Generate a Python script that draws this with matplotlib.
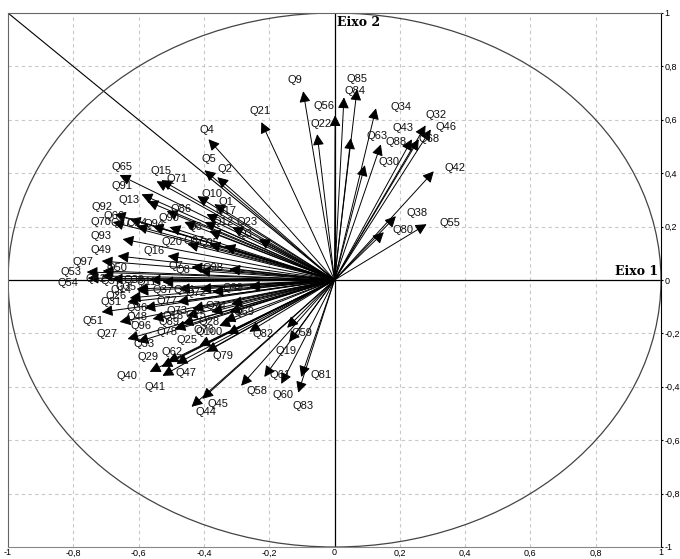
import numpy as np
import matplotlib.pyplot as plt
from matplotlib.patches import Ellipse

# variables (correlations with axis 1 and axis 2)
names = ["Q9", "Q84", "Q85", "Q56", "Q22", "Q21", "Q34", "Q63", "Q88", "Q30",
         "Q43", "Q32", "Q46", "Q68", "Q42", "Q38", "Q80", "Q55",
         "Q4", "Q5", "Q2", "Q65", "Q15", "Q71", "Q91", "Q13", "Q10", "Q1",
         "Q17", "Q12", "Q23", "Q92", "Q70", "Q66", "Q86", "Q93", "Q16", "Q49",
         "Q97", "Q53", "Q54", "Q50", "Q57",
         "Q35", "Q26", "Q31", "Q36", "Q51", "Q96", "Q48", "Q77", "Q18", "Q89",
         "Q78", "Q27", "Q33", "Q28", "Q69", "Q100", "Q25", "Q79", "Q62", "Q47",
         "Q29", "Q40", "Q41", "Q45", "Q44", "Q58", "Q61", "Q60", "Q81", "Q83",
         "Q19", "Q59", "Q82",
         "Q39", "Q52",
         "Q67", "Q24", "Q94", "Q90", "Q6", "Q20", "Q87", "Q7", "Q8", "Q11",
         "Q14", "Q37", "Q64", "Q72", "Q73", "Q74", "Q75", "Q76", "Q95", "Q98",
         "Q99", "Q3"]

eixo1 = [-0.096, 0.029, 0.069, 0.002, -0.053, -0.224, 0.127, 0.050, 0.142, 0.093,
         0.237, 0.279, 0.295, 0.258, 0.304, 0.188, 0.151, 0.282,
         -0.386, -0.398, -0.359, -0.658, -0.545, -0.530, -0.591, -0.573, -0.420, -0.368,
         -0.392, -0.398, -0.313, -0.673, -0.679, -0.627, -0.514, -0.649, -0.511, -0.664,
         -0.713, -0.759, -0.756, -0.710, -0.713,
         -0.603, -0.627, -0.634, -0.582, -0.713, -0.658, -0.557, -0.481, -0.453, -0.466,
         -0.490, -0.634, -0.603, -0.337, -0.322, -0.328, -0.414, -0.392, -0.511, -0.484,
         -0.530, -0.566, -0.527, -0.405, -0.438, -0.286, -0.215, -0.163, -0.102, -0.111,
         -0.139, -0.145, -0.261,
         -0.566, -0.682,
         -0.606, -0.557, -0.505, -0.460, -0.383, -0.450, -0.383, -0.438, -0.414, -0.527,
         -0.606, -0.476, -0.411, -0.374, -0.435, -0.316, -0.377, -0.353, -0.337, -0.322,
         -0.261, -0.231]

eixo2 = [0.707, 0.684, 0.714, 0.617, 0.546, 0.591, 0.643, 0.531, 0.508, 0.430,
         0.527, 0.579, 0.564, 0.527, 0.407, 0.239, 0.179, 0.209,
         0.527, 0.411, 0.385, 0.393, 0.370, 0.374, 0.321, 0.295, 0.314, 0.284,
         0.247, 0.217, 0.198, 0.247, 0.217, 0.228, 0.258, 0.153, 0.090, 0.090,
         0.071, 0.030, 0.007, 0.034, 0.015,
         -0.041, -0.067, -0.082, -0.105, -0.120, -0.157, -0.146, -0.082, -0.135, -0.164,
         -0.183, -0.221, -0.232, -0.153, -0.120, -0.202, -0.247, -0.269, -0.307, -0.314,
         -0.325, -0.344, -0.359, -0.445, -0.475, -0.396, -0.363, -0.389, -0.363, -0.422,
         -0.232, -0.179, -0.194,
         0.000, 0.004,
         0.202, 0.202, 0.198, 0.217, 0.183, 0.135, 0.135, 0.049, 0.034, -0.007,
         -0.034, -0.034, -0.034, -0.045, -0.108, -0.090, -0.120, -0.172, 0.127, 0.041,
         -0.026, 0.153]

ticks = [-1, -0.8, -0.6, -0.4, -0.2, 0, 0.2, 0.4, 0.6, 0.8, 1]
tick_labels = ["-1", "-0,8", "-0,6", "-0,4", "-0,2", "0", "0,2", "0,4", "0,6", "0,8", "1"]

# label centre offsets from the arrow tip, in pixels (x right, y up)
label_pos = {
    "Q9": (-8, 11), "Q84": (11, 6), "Q85": (0, 10), "Q56": (-11, 9), "Q22": (4, 10),
    "Q21": (-1, 11), "Q34": (25, 1), "Q63": (26, 2), "Q88": (15, 2), "Q30": (24, 3),
    "Q43": (-9, 11), "Q32": (10, 10), "Q46": (15, 2), "Q68": (10, 0), "Q42": (21, 3),
    "Q38": (21, 3), "Q80": (19, 2), "Q55": (23, 1), "Q4": (-2, 9), "Q5": (4, 11),
    "Q2": (8, 8), "Q65": (2, 8), "Q15": (4, 10), "Q71": (16, 1), "Q91": (-20, 8),
    "Q13": (-18, 1), "Q10": (15, 2), "Q1": (12, 2), "Q92": (-13, 7), "Q70": (-12, 0),
    "Q93": (-22, 3), "Q49": (-17, 6), "Q97": (-19, -1), "Q53": (-16, 0), "Q54": (-20, -5),
    "Q50": (14, 3), "Q57": (9, -5), "Q35": (-12, 4), "Q26": (-14, 2), "Q31": (-16, 0),
    "Q36": (-7, 0), "Q51": (-9, -9), "Q48": (-16, 2), "Q96": (21, -4), "Q77": (-11, 1),
    "Q18": (-14, 0), "Q89": (-13, 2), "Q78": (-8, -3), "Q27": (-20, 5), "Q33": (6, -2),
    "Q28": (-15, -1), "Q69": (15, 0), "Q100": (-18, 2), "Q25": (-12, 6), "Q79": (16, -4),
    "Q62": (4, 10), "Q47": (9, -9), "Q29": (-13, 10), "Q40": (-23, -4), "Q41": (-7, -11),
    "Q45": (16, -5), "Q44": (14, -5), "Q58": (16, -5), "Q61": (16, 2), "Q60": (2, -11),
    "Q81": (20, 2), "Q83": (5, -13), "Q19": (-3, -9), "Q59": (15, -5), "Q82": (14, -2),
    "Q16": (-14, 5), "Q86": (14, 2), "Q17": (19, 3), "Q23": (15, 5), "Q12": (19, 0),
}

plt.rcParams['font.family'] = ['Liberation Sans', 'DejaVu Sans']

fig = plt.figure(figsize=(6.8, 5.59), dpi=100)
ax = fig.add_axes([8 / 680, 12 / 559, 653 / 680, 534 / 559])
ax.set_xlim(-1, 1)
ax.set_ylim(-1, 1)

# grid
for t in ticks[1:-1]:
    if t == 0:
        continue
    ax.axvline(t, color='#c8c8c8', lw=0.8, ls=(0, (3, 3)), zorder=0)
    ax.axhline(t, color='#c8c8c8', lw=0.8, ls=(0, (3, 3)), zorder=0)

ax.axhline(0, color='black', lw=0.9, zorder=1)
ax.axvline(0, color='black', lw=0.9, zorder=1)
ax.plot([-1, 0], [1, 0], color='black', lw=0.8, zorder=1)
ax.add_patch(Ellipse((0, 0), 2, 2, fill=False, ec='#444444', lw=0.9, zorder=1))

# arrows + labels
for n, x, y in zip(names, eixo1, eixo2):
    ax.annotate("", xy=(x, y), xytext=(0, 0),
                arrowprops=dict(arrowstyle='-|>,head_length=0.55,head_width=0.28',
                                mutation_scale=12, color='black', lw=0.7,
                                shrinkA=0, shrinkB=0), zorder=2)
    if n in label_pos:
        dx, dy = label_pos[n]
    else:
        ang = np.arctan2(y * 267, x * 326.5)
        dx, dy = np.cos(ang) * 16, np.sin(ang) * 10
    ax.annotate(n, xy=(x, y), xytext=(dx * 0.72, dy * 0.72), textcoords='offset points',
                ha='center', va='center', fontsize=8, color='#111111', zorder=3)

ax.text(0.99, 0.008, "Eixo 1", ha='right', va='bottom', fontsize=9,
        fontweight='bold', family='DejaVu Serif')
ax.text(0.008, 0.99, "Eixo 2", ha='left', va='top', fontsize=9,
        fontweight='bold', family='DejaVu Serif')

ax.set_xticks(ticks)
ax.set_xticklabels(tick_labels)
ax.set_yticks(ticks)
ax.set_yticklabels(tick_labels)
ax.yaxis.tick_right()
ax.tick_params(axis='both', labelsize=6.5, colors='black')
ax.tick_params(axis='x', length=0, pad=1)
ax.tick_params(axis='y', length=1.5, pad=1)
for side in ['left', 'top']:
    ax.spines[side].set_color('#666666')
    ax.spines[side].set_linewidth(0.8)
ax.spines['bottom'].set_color('#888888')
ax.spines['bottom'].set_linestyle((0, (2, 1)))
ax.spines['right'].set_color('black')

fig.savefig("out.png", dpi=100)
